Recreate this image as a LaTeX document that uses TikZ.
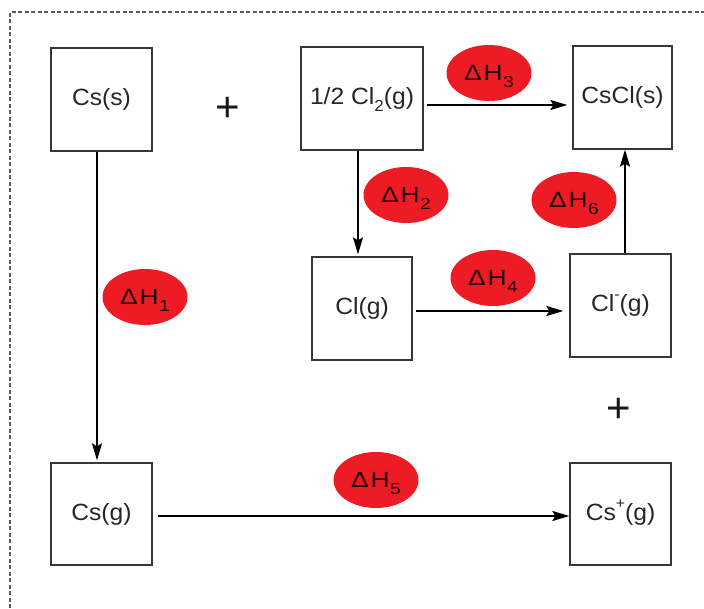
\documentclass[tikz,border=0pt]{standalone}
\usepackage{fontspec}
\setmainfont{Liberation Sans}
\usetikzlibrary{arrows.meta,shapes.geometric}
\definecolor{boxgray}{RGB}{55,55,55}
\definecolor{dhred}{RGB}{237,28,36}
\definecolor{bordergray}{RGB}{90,90,90}
\newcommand\lowsub[1]{\smash{\raisebox{-0.33em}{\fontsize{16pt}{16pt}\selectfont #1}}}
\newcommand\highsup[1]{\smash{\raisebox{0.5em}{\fontsize{15pt}{15pt}\selectfont #1}}}
\newcommand\dH[1]{\scalebox{1.2}[1]{Δ\kern1.5pt H\kern0.5pt\lowsub{#1}}}
\newcommand\csub[1]{\smash{\raisebox{-0.3em}{\fontsize{16pt}{16pt}\selectfont #1}}}
\begin{document}
\begin{tikzpicture}[x=1pt,y=-1pt,
  box/.style={draw=boxgray, line width=1.3pt, inner sep=0pt,
    font=\fontsize{23.5pt}{26pt}\selectfont, text=black!85},
  dh/.style={ellipse, fill=dhred, inner sep=0pt,
    minimum width=85pt, minimum height=56pt,
    font=\fontsize{22pt}{24pt}\selectfont, text=black!85!dhred},
  arr/.style={-{Stealth[length=17pt,width=10pt,inset=3pt]}, line width=2pt, black},
  plussign/.style={font=\fontsize{42pt}{42pt}\selectfont, inner sep=0pt, text=black!90},
  border/.style={draw=bordergray, line width=1.4pt, dash pattern=on 4pt off 2.5pt}]
\useasboundingbox (0,0) rectangle (704,608);
\draw[border] (10,608) -- (10,12) -- (704,12);
% boxes
\node[box, minimum width=101pt, minimum height=103pt] (cs)   at (101.5,99.5) {\scalebox{1.05}[1]{Cs(s)}};
\node[box, minimum width=122pt, minimum height=103pt] (cl2)  at (362,98.5)  {\scalebox{1.05}[1]{1/2 Cl\csub{2}(g)}};
\node[box, minimum width=99pt,  minimum height=103pt] (cscl) at (622.5,97.5) {\scalebox{1.05}[1]{CsCl(s)}};
\node[box, minimum width=100pt, minimum height=103pt] (cl)   at (362,308.5) {\scalebox{1.05}[1]{Cl(g)}};
\node[box, minimum width=101pt, minimum height=103pt] (clm)  at (620.5,305.5) {\scalebox{1.05}[1]{Cl\highsup{-}(g)}};
\node[box, minimum width=101pt, minimum height=102pt] (csg)  at (101.5,514) {\scalebox{1.05}[1]{Cs(g)}};
\node[box, minimum width=101pt, minimum height=102pt] (csp)  at (620.5,514) {\scalebox{1.05}[1]{Cs\highsup{+}(g)}};
% plus signs
\node[plussign] (p1) at (228,109) {+};
\node[plussign] (p2) at (619,410) {+};
% ellipses
\node[dh] (e1) at (145,297) {\dH{1}};
\node[dh] (e2) at (406,195) {\dH{2}};
\node[dh] (e3) at (489,73)  {\dH{3}};
\node[dh] (e4) at (493,278) {\dH{4}};
\node[dh] (e5) at (376,480) {\dH{5}};
\node[dh] (e6) at (574,200) {\dH{6}};
% arrows
\draw[arr, shorten >=2pt] ([xshift=-4.5pt]cs.south) -- ([xshift=-4.5pt]csg.north);
\draw[arr, shorten >=2pt] ([xshift=-4pt]cl2.south) -- ([xshift=-4pt]cl.north);
\draw[arr, shorten >=5pt] ([xshift=3pt,yshift=-6.5pt]cl2.east) coordinate (a3) -- (a3 -| cscl.west);
\draw[arr, shorten >=6pt] ([xshift=3pt,yshift=-2.5pt]cl.east) coordinate (a4) -- (a4 -| clm.west);
\draw[arr] ([xshift=5pt,yshift=-2pt]csg.east) coordinate (a5) -- (a5 -| csp.west);
\draw[arr] ([xshift=4.5pt]clm.north) coordinate (a6) -- (a6 |- cscl.south);
\end{tikzpicture}
\end{document}
